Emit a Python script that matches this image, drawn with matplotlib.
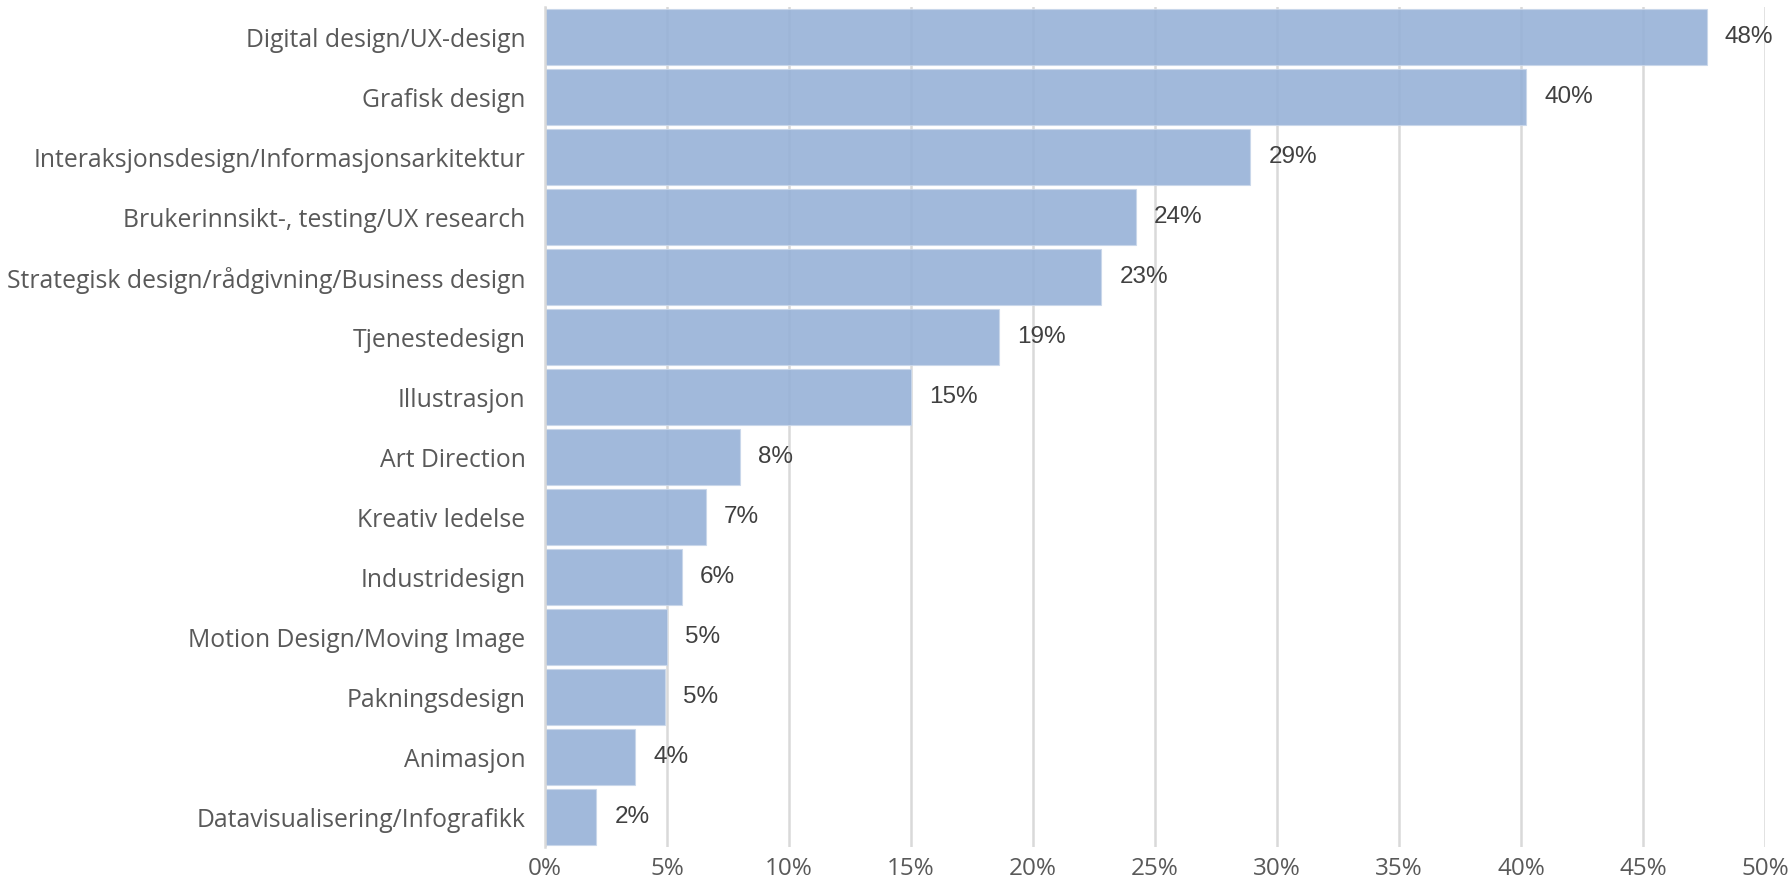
import numpy as np
from matplotlib import pyplot as plt

# data (andel i prosent), øverst til nederst
categories = [
    'Digital design/UX-design',
    'Grafisk design',
    'Interaksjonsdesign/Informasjonsarkitektur',
    'Brukerinnsikt-, testing/UX research',
    'Strategisk design/rådgivning/Business design',
    'Tjenestedesign',
    'Illustrasjon',
    'Art Direction',
    'Kreativ ledelse',
    'Industridesign',
    'Motion Design/Moving Image',
    'Pakningsdesign',
    'Animasjon',
    'Datavisualisering/Infografikk',
]
values = [47.6, 40.2, 28.9, 24.2, 22.8, 18.6, 15.0, 8.0, 6.6, 5.6, 5.0, 4.9, 3.7, 2.1]
labels = ['48%', '40%', '29%', '24%', '23%', '19%', '15%', '8%', '7%', '6%', '5%', '5%', '4%', '2%']
xticks = [0, 5, 10, 15, 20, 25, 30, 35, 40, 45, 50]

fig = plt.figure(figsize=(17.92, 8.8), dpi=100)
ax = fig.add_axes([0.3041, 0.0375, 0.6809, 0.9545])

y = np.arange(len(categories))
ax.barh(y, values, height=0.92, color='#97B2D7', alpha=0.9,
        edgecolor='#C9D7EA', linewidth=0.8, zorder=2)

for yi, v, lab in zip(y, values, labels):
    ax.annotate(lab, (v, yi), xytext=(13, 0), textcoords='offset points',
                ha='left', va='center', fontsize=17.5, color='#404040',
                family='Liberation Sans', zorder=3)

ax.set_xlim(0, 50)
ax.set_ylim(len(categories) - 0.5, -0.5)
ax.set_yticks(y)
ax.set_yticklabels(categories, fontsize=17.8, color='#595959', family='Open Sans')
ax.set_xticks(xticks)
ax.set_xticklabels([f'{t}%' for t in xticks], fontsize=17.5, color='#595959', family='Open Sans')
ax.tick_params(axis='both', length=0)
ax.tick_params(axis='x', pad=7.5)
ax.tick_params(axis='y', pad=14)

ax.grid(axis='x', color='#D9D9D9', linewidth=1.8, zorder=0)
ax.set_axisbelow(True)
for s in ['top', 'right', 'bottom']:
    ax.spines[s].set_visible(False)
ax.spines['left'].set_color('#D9D9D9')
ax.spines['left'].set_linewidth(1.8)

fig.savefig('out.png', dpi=100)
